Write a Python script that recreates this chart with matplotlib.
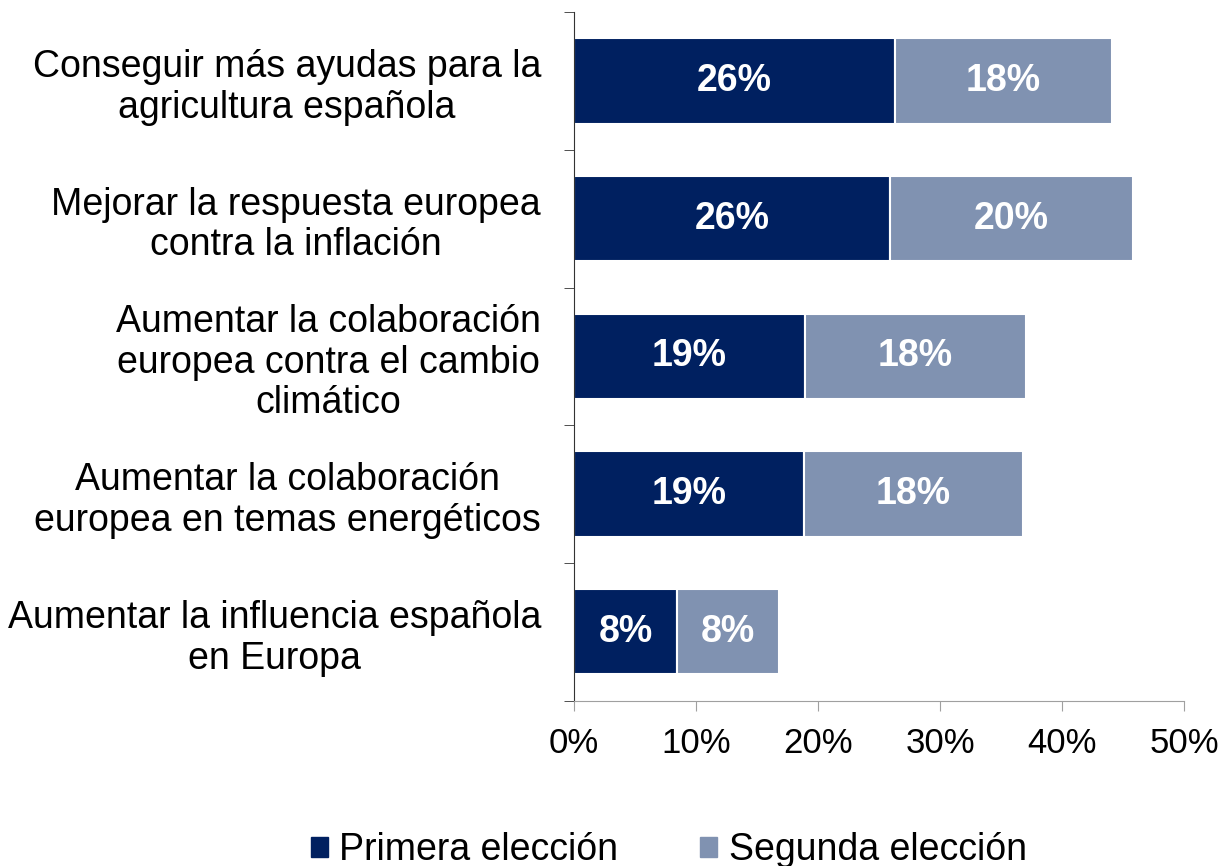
import matplotlib.pyplot as plt
import numpy as np
from matplotlib.patches import Patch

plt.rcParams['font.family'] = ['Liberation Sans', 'DejaVu Sans']

categories = [
    "Conseguir más ayudas para la\nagricultura española",
    "Mejorar la respuesta europea\ncontra la inflación",
    "Aumentar la colaboración\neuropea contra el cambio\nclimático",
    "Aumentar la colaboración\neuropea en temas energéticos",
    "Aumentar la influencia española\nen Europa",
]
primera = [26.3, 25.9, 18.9, 18.85, 8.4]
segunda = [17.8, 19.9, 18.1, 17.95, 8.35]
primera_lbl = ["26%", "26%", "19%", "19%", "8%"]
segunda_lbl = ["18%", "20%", "18%", "18%", "8%"]
xticks = [0, 10, 20, 30, 40, 50]

dark = "#002060"
light = "#8092B1"

fig = plt.figure(figsize=(12.27, 8.66), dpi=100)
ax = fig.add_axes([0.468, 0.191, 0.497, 0.795])

y = np.arange(len(categories))
ax.barh(y, primera, height=0.62, color=dark, edgecolor="white", linewidth=1.5)
ax.barh(y, segunda, left=primera, height=0.62, color=light, edgecolor="white", linewidth=1.5)

for i in range(len(categories)):
    ax.text(primera[i] / 2, y[i], primera_lbl[i], ha="center", va="center",
            color="white", fontsize=27, fontweight="bold")
    ax.text(primera[i] + segunda[i] / 2, y[i], segunda_lbl[i], ha="center", va="center",
            color="white", fontsize=27, fontweight="bold")

ax.set_xlim(0, 50)
ax.set_ylim(len(categories) - 0.5, -0.5)
ax.set_xticks(xticks)
ax.set_xticklabels([f"{v}%" for v in xticks], fontsize=25)
ax.tick_params(axis="x", length=7, color="#a0a0a0", pad=12)

ax.set_yticks(y)
ax.set_yticklabels(categories, fontsize=27, linespacing=1.17, multialignment="center")
ax.tick_params(axis="y", length=0, pad=24)
ax.set_yticks(np.arange(-0.5, len(categories), 1), minor=True)
ax.tick_params(axis="y", which="minor", length=7, color="#333333")

for s in ["top", "right"]:
    ax.spines[s].set_visible(False)
ax.spines["bottom"].set_color("#a0a0a0")
ax.spines["left"].set_color("#333333")

handles = [Patch(color=dark, label="Primera elección"),
           Patch(color=light, label="Segunda elección")]
fig.legend(handles=handles, loc="center", bbox_to_anchor=(0.545, 0.018), ncol=2,
           frameon=False, fontsize=27, handlelength=0.45, handleheight=0.45,
           handletextpad=0.3, columnspacing=2.2)

fig.savefig("out.png", dpi=100)
